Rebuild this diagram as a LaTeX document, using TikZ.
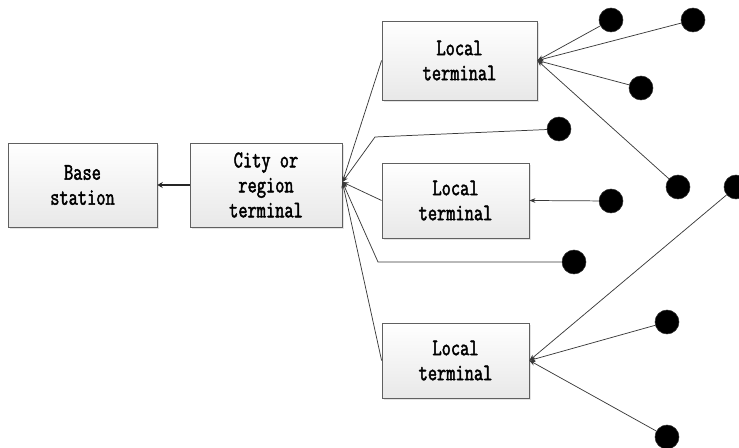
\documentclass[tikz,border=0pt]{standalone}
\usepackage{fontspec}
\setmonofont{Latin Modern Mono}[FakeStretch=0.75,FakeBold=2]
\usetikzlibrary{arrows.meta,shadows}

\tikzset{
  termbox/.style={draw=gray!75!black, line width=0.6pt,
    top color=white, bottom color=gray!18,
    drop shadow={shadow xshift=1.2pt, shadow yshift=-1.2pt, fill=gray!35, opacity=0.6},
    align=center, inner sep=0pt,
    font=\ttfamily\fontsize{17.9}{18.75}\selectfont},
  dot/.style={circle, fill=black, draw=black!80, minimum size=18pt, inner sep=0pt},
  link/.style={draw=gray!45!black, line width=0.55pt,
    -{Stealth[length=4.5pt,width=3.5pt]}},
  uplink/.style={draw=black!85, line width=1.6pt,
    -{Stealth[length=4pt,width=4.5pt]}}
}

\begin{document}
\begin{tikzpicture}[x=0.75pt,y=-0.75pt]
  \useasboundingbox (0,0) rectangle (739,448);

  % terminals
  \node[termbox, minimum width=111.75pt, minimum height=63pt] (base) at (82.5,185) {Base\\station};
  \node[termbox, minimum width=114pt, minimum height=63pt] (city) at (266,185) {City or\\region\\terminal};
  \node[termbox, minimum width=116.25pt, minimum height=59.25pt] (loc1) at (459.5,60.5) {Local\\terminal};
  \node[termbox, minimum width=110.25pt, minimum height=56.25pt] (loc2) at (455.5,200.5) {Local\\terminal};
  \node[termbox, minimum width=110.25pt, minimum height=56.25pt] (loc3) at (455.5,360.5) {Local\\terminal};

  % end devices
  \node[dot] (d1) at (611,20) {};
  \node[dot] (d2) at (693,20) {};
  \node[dot] (d3) at (641,88) {};
  \node[dot] (d4) at (559,129) {};
  \node[dot] (d5) at (678,187) {};
  \node[dot] (d6) at (611,201) {};
  \node[dot] (d7) at (574,262) {};
  \node[dot] (d8) at (736,187) {};
  \node[dot] (d9) at (667,322) {};
  \node[dot] (d10) at (667,437) {};

  % uplink to the base station
  \draw[uplink] (city.west) -- (base.east);

  % links into the city/region terminal
  \coordinate (hub) at ([yshift=2.2pt]city.east);
  \draw[link] (loc1.west) -- (hub);
  \draw[link] (d4) -- (375,137) -- (hub);
  \draw[link] (loc2.west) -- (hub);
  \draw[link] (d7) -- (378,262) -- (hub);
  \draw[link] (loc3.west) -- (hub);

  % devices attached to the local terminals
  \draw[link] (d1) -- (loc1.east);
  \draw[link] (d2) -- (loc1.east);
  \draw[link] (d3) -- (loc1.east);
  \draw[link] (d5) -- (loc1.east);
  \draw[link] (d6) -- (loc2.east);
  \draw[link] (d8) -- (loc3.east);
  \draw[link] (d9) -- (loc3.east);
  \draw[link] (d10) -- (loc3.east);
\end{tikzpicture}
\end{document}
